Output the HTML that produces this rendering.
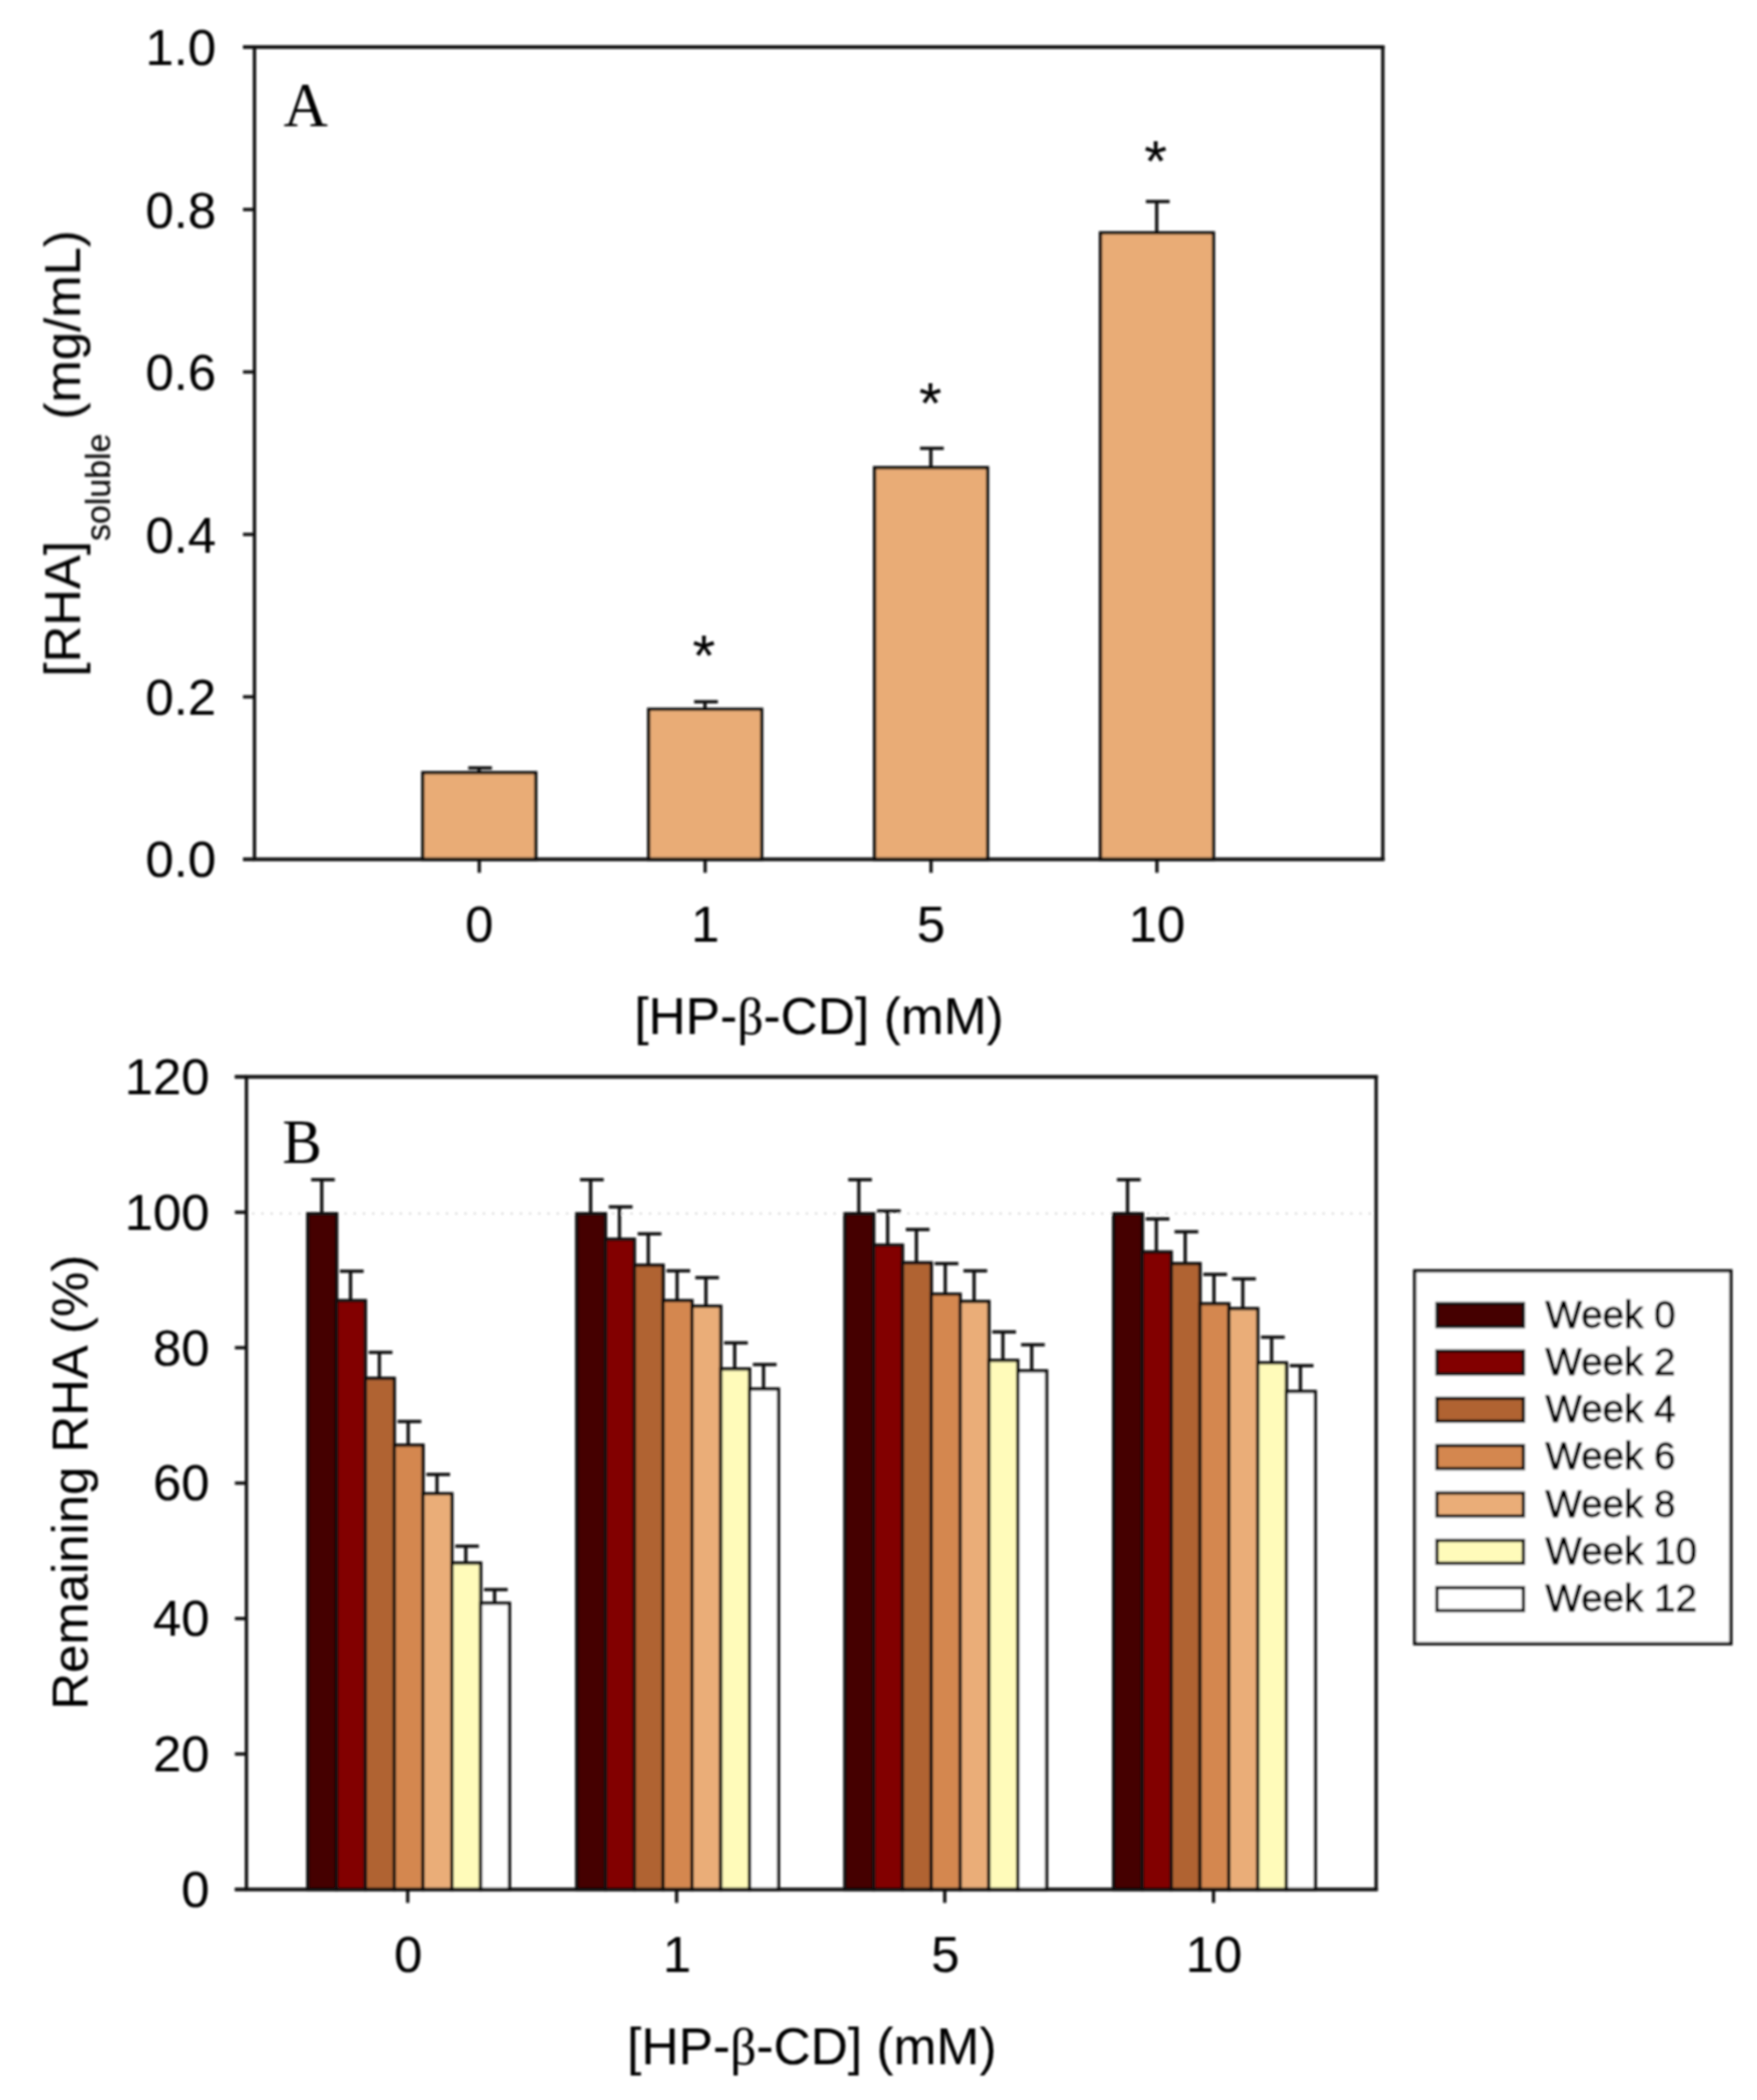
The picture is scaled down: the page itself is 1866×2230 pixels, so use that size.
<!DOCTYPE html>
<html lang="en">
<head>
<meta charset="utf-8">
<title>RHA solubility and stability with HP-β-CD</title>
<style>
html,body{margin:0;padding:0;background:#fff;}
body{width:1866px;height:2230px;overflow:hidden;}
svg{display:block;}
text{fill:#000;stroke:#000;stroke-width:0.12px;stroke-linejoin:round;}
text.lg{stroke-width:0.9px;}
</style>
</head>
<body>
<svg width="1866" height="2230" viewBox="0 0 1866 2230">
<rect x="0" y="0" width="1866" height="2230" fill="#ffffff"/>
<defs><filter id="soft" x="-2%" y="-2%" width="104%" height="104%" filterUnits="objectBoundingBox"><feGaussianBlur stdDeviation="0.85"/></filter></defs>
<g id="fig" filter="url(#soft)">
<rect x="270.3" y="50.0" width="1198.3" height="862.5" fill="none" stroke="#0e0e0e" stroke-width="3.5"/>
<line x1="258.05" y1="912.50" x2="270.30" y2="912.50" stroke="#0e0e0e" stroke-width="3.5" />
<text x="229.50" y="930.53" font-size="54" text-anchor="end" font-family="'Liberation Sans', sans-serif" >0.0</text>
<line x1="258.05" y1="740.00" x2="270.30" y2="740.00" stroke="#0e0e0e" stroke-width="3.5" />
<text x="229.50" y="759.03" font-size="54" text-anchor="end" font-family="'Liberation Sans', sans-serif" >0.2</text>
<line x1="258.05" y1="567.50" x2="270.30" y2="567.50" stroke="#0e0e0e" stroke-width="3.5" />
<text x="229.50" y="586.53" font-size="54" text-anchor="end" font-family="'Liberation Sans', sans-serif" >0.4</text>
<line x1="258.05" y1="395.00" x2="270.30" y2="395.00" stroke="#0e0e0e" stroke-width="3.5" />
<text x="229.50" y="414.03" font-size="54" text-anchor="end" font-family="'Liberation Sans', sans-serif" >0.6</text>
<line x1="258.05" y1="222.50" x2="270.30" y2="222.50" stroke="#0e0e0e" stroke-width="3.5" />
<text x="229.50" y="241.53" font-size="54" text-anchor="end" font-family="'Liberation Sans', sans-serif" >0.8</text>
<line x1="258.05" y1="50.00" x2="270.30" y2="50.00" stroke="#0e0e0e" stroke-width="3.5" />
<text x="229.50" y="69.03" font-size="54" text-anchor="end" font-family="'Liberation Sans', sans-serif" >1.0</text>
<line x1="508.80" y1="815.50" x2="508.80" y2="820.50" stroke="#0e0e0e" stroke-width="3.5" />
<line x1="497.30" y1="815.50" x2="522.50" y2="815.50" stroke="#0e0e0e" stroke-width="3.5" />
<rect x="449.00" y="820.50" width="120.00" height="92.00" fill="#E9AC76" stroke="#0e0e0e" stroke-width="3.5"/>
<line x1="509.00" y1="912.50" x2="509.00" y2="926.80" stroke="#0e0e0e" stroke-width="3.5" />
<text x="509.00" y="1000.00" font-size="54" text-anchor="middle" font-family="'Liberation Sans', sans-serif" >0</text>
<line x1="748.70" y1="745.20" x2="748.70" y2="753.20" stroke="#0e0e0e" stroke-width="3.5" />
<line x1="737.20" y1="745.20" x2="762.40" y2="745.20" stroke="#0e0e0e" stroke-width="3.5" />
<rect x="688.90" y="753.20" width="120.00" height="159.30" fill="#E9AC76" stroke="#0e0e0e" stroke-width="3.5"/>
<line x1="748.90" y1="912.50" x2="748.90" y2="926.80" stroke="#0e0e0e" stroke-width="3.5" />
<text x="748.90" y="1000.00" font-size="54" text-anchor="middle" font-family="'Liberation Sans', sans-serif" >1</text>
<text x="747.50" y="717.00" font-size="62" text-anchor="middle" font-family="'Liberation Sans', sans-serif" stroke="#000" stroke-width="1.6" stroke-linejoin="round">*</text>
<line x1="988.60" y1="476.10" x2="988.60" y2="496.60" stroke="#0e0e0e" stroke-width="3.5" />
<line x1="977.10" y1="476.10" x2="1002.30" y2="476.10" stroke="#0e0e0e" stroke-width="3.5" />
<rect x="928.80" y="496.60" width="120.00" height="415.90" fill="#E9AC76" stroke="#0e0e0e" stroke-width="3.5"/>
<line x1="988.80" y1="912.50" x2="988.80" y2="926.80" stroke="#0e0e0e" stroke-width="3.5" />
<text x="988.80" y="1000.00" font-size="54" text-anchor="middle" font-family="'Liberation Sans', sans-serif" >5</text>
<text x="988.00" y="449.30" font-size="62" text-anchor="middle" font-family="'Liberation Sans', sans-serif" stroke="#000" stroke-width="1.6" stroke-linejoin="round">*</text>
<line x1="1228.50" y1="214.00" x2="1228.50" y2="247.30" stroke="#0e0e0e" stroke-width="3.5" />
<line x1="1217.00" y1="214.00" x2="1242.20" y2="214.00" stroke="#0e0e0e" stroke-width="3.5" />
<rect x="1168.70" y="247.30" width="120.00" height="665.20" fill="#E9AC76" stroke="#0e0e0e" stroke-width="3.5"/>
<line x1="1228.70" y1="912.50" x2="1228.70" y2="926.80" stroke="#0e0e0e" stroke-width="3.5" />
<text x="1228.70" y="1000.00" font-size="54" text-anchor="middle" font-family="'Liberation Sans', sans-serif" >10</text>
<text x="1227.30" y="192.40" font-size="62" text-anchor="middle" font-family="'Liberation Sans', sans-serif" stroke="#000" stroke-width="1.6" stroke-linejoin="round">*</text>
<line x1="258.05" y1="912.50" x2="1470.35" y2="912.50" stroke="#0e0e0e" stroke-width="3.5" />
<line x1="258.05" y1="50.00" x2="1470.35" y2="50.00" stroke="#0e0e0e" stroke-width="3.5" />
<text transform="translate(301.3 134.0) scale(0.955 1)" font-size="68" font-family="'Liberation Serif', serif">A</text>
<text x="869.8" y="1097.5" font-size="54.7" text-anchor="middle" font-family="'Liberation Sans', sans-serif">[HP-<tspan font-family="'Liberation Serif', serif">β</tspan>-CD] (mM)</text>
<text transform="translate(85.0 481.5) rotate(-90)" font-size="54" text-anchor="middle" font-family="'Liberation Sans', sans-serif">[RHA]<tspan font-size="36" dy="31.5">soluble</tspan><tspan dy="-31.5"> (mg/mL)</tspan></text>
<rect x="261.7" y="1143.5" width="1199.8" height="862.9000000000001" fill="none" stroke="#0e0e0e" stroke-width="3.5"/>
<line x1="267.70" y1="1288.60" x2="1459.50" y2="1288.60" stroke="#dcdcdc" stroke-width="2.4" stroke-dasharray="2.6 7.2"/>
<line x1="249.45" y1="2006.40" x2="261.70" y2="2006.40" stroke="#0e0e0e" stroke-width="3.5" />
<text x="222.50" y="2024.93" font-size="54" text-anchor="end" font-family="'Liberation Sans', sans-serif" >0</text>
<line x1="249.45" y1="1862.58" x2="261.70" y2="1862.58" stroke="#0e0e0e" stroke-width="3.5" />
<text x="222.50" y="1881.12" font-size="54" text-anchor="end" font-family="'Liberation Sans', sans-serif" >20</text>
<line x1="249.45" y1="1718.77" x2="261.70" y2="1718.77" stroke="#0e0e0e" stroke-width="3.5" />
<text x="222.50" y="1737.30" font-size="54" text-anchor="end" font-family="'Liberation Sans', sans-serif" >40</text>
<line x1="249.45" y1="1574.95" x2="261.70" y2="1574.95" stroke="#0e0e0e" stroke-width="3.5" />
<text x="222.50" y="1593.48" font-size="54" text-anchor="end" font-family="'Liberation Sans', sans-serif" >60</text>
<line x1="249.45" y1="1431.13" x2="261.70" y2="1431.13" stroke="#0e0e0e" stroke-width="3.5" />
<text x="222.50" y="1449.67" font-size="54" text-anchor="end" font-family="'Liberation Sans', sans-serif" >80</text>
<line x1="249.45" y1="1287.32" x2="261.70" y2="1287.32" stroke="#0e0e0e" stroke-width="3.5" />
<text x="222.50" y="1305.85" font-size="54" text-anchor="end" font-family="'Liberation Sans', sans-serif" >100</text>
<line x1="249.45" y1="1143.50" x2="261.70" y2="1143.50" stroke="#0e0e0e" stroke-width="3.5" />
<text x="222.50" y="1162.03" font-size="54" text-anchor="end" font-family="'Liberation Sans', sans-serif" >120</text>
<line x1="341.70" y1="1252.70" x2="341.70" y2="1288.90" stroke="#0e0e0e" stroke-width="3.5" />
<line x1="330.40" y1="1252.70" x2="355.60" y2="1252.70" stroke="#0e0e0e" stroke-width="3.5" />
<line x1="372.30" y1="1349.90" x2="372.30" y2="1381.10" stroke="#0e0e0e" stroke-width="3.5" />
<line x1="361.00" y1="1349.90" x2="386.20" y2="1349.90" stroke="#0e0e0e" stroke-width="3.5" />
<line x1="402.90" y1="1436.10" x2="402.90" y2="1463.60" stroke="#0e0e0e" stroke-width="3.5" />
<line x1="391.60" y1="1436.10" x2="416.80" y2="1436.10" stroke="#0e0e0e" stroke-width="3.5" />
<line x1="433.50" y1="1509.50" x2="433.50" y2="1534.60" stroke="#0e0e0e" stroke-width="3.5" />
<line x1="422.20" y1="1509.50" x2="447.40" y2="1509.50" stroke="#0e0e0e" stroke-width="3.5" />
<line x1="464.10" y1="1565.70" x2="464.10" y2="1586.20" stroke="#0e0e0e" stroke-width="3.5" />
<line x1="452.80" y1="1565.70" x2="478.00" y2="1565.70" stroke="#0e0e0e" stroke-width="3.5" />
<line x1="494.70" y1="1641.90" x2="494.70" y2="1659.80" stroke="#0e0e0e" stroke-width="3.5" />
<line x1="483.40" y1="1641.90" x2="508.60" y2="1641.90" stroke="#0e0e0e" stroke-width="3.5" />
<line x1="525.30" y1="1688.00" x2="525.30" y2="1702.50" stroke="#0e0e0e" stroke-width="3.5" />
<line x1="514.00" y1="1688.00" x2="539.20" y2="1688.00" stroke="#0e0e0e" stroke-width="3.5" />
<rect x="326.90" y="1288.90" width="30.60" height="717.50" fill="#450000" stroke="#0e0e0e" stroke-width="3.5"/>
<rect x="357.50" y="1381.10" width="30.60" height="625.30" fill="#820000" stroke="#0e0e0e" stroke-width="3.5"/>
<rect x="388.10" y="1463.60" width="30.60" height="542.80" fill="#B06433" stroke="#0e0e0e" stroke-width="3.5"/>
<rect x="418.70" y="1534.60" width="30.60" height="471.80" fill="#D48750" stroke="#0e0e0e" stroke-width="3.5"/>
<rect x="449.30" y="1586.20" width="30.60" height="420.20" fill="#EAAD78" stroke="#0e0e0e" stroke-width="3.5"/>
<rect x="479.90" y="1659.80" width="30.60" height="346.60" fill="#FFFBBA" stroke="#0e0e0e" stroke-width="3.5"/>
<rect x="510.50" y="1702.50" width="30.60" height="303.90" fill="#FFFFFF" stroke="#0e0e0e" stroke-width="3.5"/>
<line x1="433.00" y1="2006.40" x2="433.00" y2="2020.70" stroke="#0e0e0e" stroke-width="3.5" />
<text x="433.50" y="2094.00" font-size="54" text-anchor="middle" font-family="'Liberation Sans', sans-serif" >0</text>
<line x1="627.30" y1="1252.70" x2="627.30" y2="1288.90" stroke="#0e0e0e" stroke-width="3.5" />
<line x1="616.00" y1="1252.70" x2="641.20" y2="1252.70" stroke="#0e0e0e" stroke-width="3.5" />
<line x1="657.90" y1="1281.60" x2="657.90" y2="1315.90" stroke="#0e0e0e" stroke-width="3.5" />
<line x1="646.60" y1="1281.60" x2="671.80" y2="1281.60" stroke="#0e0e0e" stroke-width="3.5" />
<line x1="688.50" y1="1310.20" x2="688.50" y2="1343.50" stroke="#0e0e0e" stroke-width="3.5" />
<line x1="677.20" y1="1310.20" x2="702.40" y2="1310.20" stroke="#0e0e0e" stroke-width="3.5" />
<line x1="719.10" y1="1349.50" x2="719.10" y2="1381.10" stroke="#0e0e0e" stroke-width="3.5" />
<line x1="707.80" y1="1349.50" x2="733.00" y2="1349.50" stroke="#0e0e0e" stroke-width="3.5" />
<line x1="749.70" y1="1356.70" x2="749.70" y2="1387.10" stroke="#0e0e0e" stroke-width="3.5" />
<line x1="738.40" y1="1356.70" x2="763.60" y2="1356.70" stroke="#0e0e0e" stroke-width="3.5" />
<line x1="780.30" y1="1426.00" x2="780.30" y2="1453.70" stroke="#0e0e0e" stroke-width="3.5" />
<line x1="769.00" y1="1426.00" x2="794.20" y2="1426.00" stroke="#0e0e0e" stroke-width="3.5" />
<line x1="810.90" y1="1449.00" x2="810.90" y2="1475.00" stroke="#0e0e0e" stroke-width="3.5" />
<line x1="799.60" y1="1449.00" x2="824.80" y2="1449.00" stroke="#0e0e0e" stroke-width="3.5" />
<rect x="612.50" y="1288.90" width="30.60" height="717.50" fill="#450000" stroke="#0e0e0e" stroke-width="3.5"/>
<rect x="643.10" y="1315.90" width="30.60" height="690.50" fill="#820000" stroke="#0e0e0e" stroke-width="3.5"/>
<rect x="673.70" y="1343.50" width="30.60" height="662.90" fill="#B06433" stroke="#0e0e0e" stroke-width="3.5"/>
<rect x="704.30" y="1381.10" width="30.60" height="625.30" fill="#D48750" stroke="#0e0e0e" stroke-width="3.5"/>
<rect x="734.90" y="1387.10" width="30.60" height="619.30" fill="#EAAD78" stroke="#0e0e0e" stroke-width="3.5"/>
<rect x="765.50" y="1453.70" width="30.60" height="552.70" fill="#FFFBBA" stroke="#0e0e0e" stroke-width="3.5"/>
<rect x="796.10" y="1475.00" width="30.60" height="531.40" fill="#FFFFFF" stroke="#0e0e0e" stroke-width="3.5"/>
<line x1="718.60" y1="2006.40" x2="718.60" y2="2020.70" stroke="#0e0e0e" stroke-width="3.5" />
<text x="719.10" y="2094.00" font-size="54" text-anchor="middle" font-family="'Liberation Sans', sans-serif" >1</text>
<line x1="912.10" y1="1252.70" x2="912.10" y2="1288.90" stroke="#0e0e0e" stroke-width="3.5" />
<line x1="900.80" y1="1252.70" x2="926.00" y2="1252.70" stroke="#0e0e0e" stroke-width="3.5" />
<line x1="942.70" y1="1286.00" x2="942.70" y2="1322.20" stroke="#0e0e0e" stroke-width="3.5" />
<line x1="931.40" y1="1286.00" x2="956.60" y2="1286.00" stroke="#0e0e0e" stroke-width="3.5" />
<line x1="973.30" y1="1305.60" x2="973.30" y2="1341.00" stroke="#0e0e0e" stroke-width="3.5" />
<line x1="962.00" y1="1305.60" x2="987.20" y2="1305.60" stroke="#0e0e0e" stroke-width="3.5" />
<line x1="1003.90" y1="1341.80" x2="1003.90" y2="1374.30" stroke="#0e0e0e" stroke-width="3.5" />
<line x1="992.60" y1="1341.80" x2="1017.80" y2="1341.80" stroke="#0e0e0e" stroke-width="3.5" />
<line x1="1034.50" y1="1349.50" x2="1034.50" y2="1382.00" stroke="#0e0e0e" stroke-width="3.5" />
<line x1="1023.20" y1="1349.50" x2="1048.40" y2="1349.50" stroke="#0e0e0e" stroke-width="3.5" />
<line x1="1065.10" y1="1414.40" x2="1065.10" y2="1444.60" stroke="#0e0e0e" stroke-width="3.5" />
<line x1="1053.80" y1="1414.40" x2="1079.00" y2="1414.40" stroke="#0e0e0e" stroke-width="3.5" />
<line x1="1095.70" y1="1428.00" x2="1095.70" y2="1455.70" stroke="#0e0e0e" stroke-width="3.5" />
<line x1="1084.40" y1="1428.00" x2="1109.60" y2="1428.00" stroke="#0e0e0e" stroke-width="3.5" />
<rect x="897.30" y="1288.90" width="30.60" height="717.50" fill="#450000" stroke="#0e0e0e" stroke-width="3.5"/>
<rect x="927.90" y="1322.20" width="30.60" height="684.20" fill="#820000" stroke="#0e0e0e" stroke-width="3.5"/>
<rect x="958.50" y="1341.00" width="30.60" height="665.40" fill="#B06433" stroke="#0e0e0e" stroke-width="3.5"/>
<rect x="989.10" y="1374.30" width="30.60" height="632.10" fill="#D48750" stroke="#0e0e0e" stroke-width="3.5"/>
<rect x="1019.70" y="1382.00" width="30.60" height="624.40" fill="#EAAD78" stroke="#0e0e0e" stroke-width="3.5"/>
<rect x="1050.30" y="1444.60" width="30.60" height="561.80" fill="#FFFBBA" stroke="#0e0e0e" stroke-width="3.5"/>
<rect x="1080.90" y="1455.70" width="30.60" height="550.70" fill="#FFFFFF" stroke="#0e0e0e" stroke-width="3.5"/>
<line x1="1003.40" y1="2006.40" x2="1003.40" y2="2020.70" stroke="#0e0e0e" stroke-width="3.5" />
<text x="1003.90" y="2094.00" font-size="54" text-anchor="middle" font-family="'Liberation Sans', sans-serif" >5</text>
<line x1="1197.50" y1="1252.70" x2="1197.50" y2="1288.90" stroke="#0e0e0e" stroke-width="3.5" />
<line x1="1186.20" y1="1252.70" x2="1211.40" y2="1252.70" stroke="#0e0e0e" stroke-width="3.5" />
<line x1="1228.10" y1="1294.40" x2="1228.10" y2="1329.50" stroke="#0e0e0e" stroke-width="3.5" />
<line x1="1216.80" y1="1294.40" x2="1242.00" y2="1294.40" stroke="#0e0e0e" stroke-width="3.5" />
<line x1="1258.70" y1="1308.00" x2="1258.70" y2="1341.80" stroke="#0e0e0e" stroke-width="3.5" />
<line x1="1247.40" y1="1308.00" x2="1272.60" y2="1308.00" stroke="#0e0e0e" stroke-width="3.5" />
<line x1="1289.30" y1="1353.30" x2="1289.30" y2="1384.50" stroke="#0e0e0e" stroke-width="3.5" />
<line x1="1278.00" y1="1353.30" x2="1303.20" y2="1353.30" stroke="#0e0e0e" stroke-width="3.5" />
<line x1="1319.90" y1="1358.00" x2="1319.90" y2="1389.60" stroke="#0e0e0e" stroke-width="3.5" />
<line x1="1308.60" y1="1358.00" x2="1333.80" y2="1358.00" stroke="#0e0e0e" stroke-width="3.5" />
<line x1="1350.50" y1="1420.00" x2="1350.50" y2="1447.30" stroke="#0e0e0e" stroke-width="3.5" />
<line x1="1339.20" y1="1420.00" x2="1364.40" y2="1420.00" stroke="#0e0e0e" stroke-width="3.5" />
<line x1="1381.10" y1="1450.20" x2="1381.10" y2="1477.60" stroke="#0e0e0e" stroke-width="3.5" />
<line x1="1369.80" y1="1450.20" x2="1395.00" y2="1450.20" stroke="#0e0e0e" stroke-width="3.5" />
<rect x="1182.70" y="1288.90" width="30.60" height="717.50" fill="#450000" stroke="#0e0e0e" stroke-width="3.5"/>
<rect x="1213.30" y="1329.50" width="30.60" height="676.90" fill="#820000" stroke="#0e0e0e" stroke-width="3.5"/>
<rect x="1243.90" y="1341.80" width="30.60" height="664.60" fill="#B06433" stroke="#0e0e0e" stroke-width="3.5"/>
<rect x="1274.50" y="1384.50" width="30.60" height="621.90" fill="#D48750" stroke="#0e0e0e" stroke-width="3.5"/>
<rect x="1305.10" y="1389.60" width="30.60" height="616.80" fill="#EAAD78" stroke="#0e0e0e" stroke-width="3.5"/>
<rect x="1335.70" y="1447.30" width="30.60" height="559.10" fill="#FFFBBA" stroke="#0e0e0e" stroke-width="3.5"/>
<rect x="1366.30" y="1477.60" width="30.60" height="528.80" fill="#FFFFFF" stroke="#0e0e0e" stroke-width="3.5"/>
<line x1="1288.80" y1="2006.40" x2="1288.80" y2="2020.70" stroke="#0e0e0e" stroke-width="3.5" />
<text x="1289.30" y="2094.00" font-size="54" text-anchor="middle" font-family="'Liberation Sans', sans-serif" >10</text>
<line x1="249.45" y1="2006.40" x2="1463.25" y2="2006.40" stroke="#0e0e0e" stroke-width="3.5" />
<line x1="249.45" y1="1143.50" x2="1463.25" y2="1143.50" stroke="#0e0e0e" stroke-width="3.5" />
<text transform="translate(300.0 1234.8) scale(0.925 1)" font-size="67.5" font-family="'Liberation Serif', serif">B</text>
<text x="862.2" y="2191.5" font-size="54.7" text-anchor="middle" font-family="'Liberation Sans', sans-serif">[HP-<tspan font-family="'Liberation Serif', serif">β</tspan>-CD] (mM)</text>
<text transform="translate(93.0 1574.0) rotate(-90)" font-size="54" text-anchor="middle" font-family="'Liberation Sans', sans-serif">Remaining RHA (%)</text>
<rect x="1502.5" y="1349.5" width="335.79999999999995" height="396.0" fill="#fff" stroke="#0e0e0e" stroke-width="3.5"/>
<rect x="1526.20" y="1384.30" width="91.70" height="24.40" fill="#450000" stroke="#0e0e0e" stroke-width="3.5"/>
<text x="1641.30" y="1409.50" font-size="41" text-anchor="start" font-family="'Liberation Sans', sans-serif" class="lg">Week 0</text>
<rect x="1526.20" y="1434.58" width="91.70" height="24.40" fill="#820000" stroke="#0e0e0e" stroke-width="3.5"/>
<text x="1641.30" y="1459.78" font-size="41" text-anchor="start" font-family="'Liberation Sans', sans-serif" class="lg">Week 2</text>
<rect x="1526.20" y="1484.86" width="91.70" height="24.40" fill="#B06433" stroke="#0e0e0e" stroke-width="3.5"/>
<text x="1641.30" y="1510.06" font-size="41" text-anchor="start" font-family="'Liberation Sans', sans-serif" class="lg">Week 4</text>
<rect x="1526.20" y="1535.14" width="91.70" height="24.40" fill="#D48750" stroke="#0e0e0e" stroke-width="3.5"/>
<text x="1641.30" y="1560.34" font-size="41" text-anchor="start" font-family="'Liberation Sans', sans-serif" class="lg">Week 6</text>
<rect x="1526.20" y="1585.42" width="91.70" height="24.40" fill="#EAAD78" stroke="#0e0e0e" stroke-width="3.5"/>
<text x="1641.30" y="1610.62" font-size="41" text-anchor="start" font-family="'Liberation Sans', sans-serif" class="lg">Week 8</text>
<rect x="1526.20" y="1635.70" width="91.70" height="24.40" fill="#FFFBBA" stroke="#0e0e0e" stroke-width="3.5"/>
<text x="1641.30" y="1660.90" font-size="41" text-anchor="start" font-family="'Liberation Sans', sans-serif" class="lg">Week 10</text>
<rect x="1526.20" y="1685.98" width="91.70" height="24.40" fill="#FFFFFF" stroke="#0e0e0e" stroke-width="3.5"/>
<text x="1641.30" y="1711.18" font-size="41" text-anchor="start" font-family="'Liberation Sans', sans-serif" class="lg">Week 12</text>
</g>
</svg>
</body>
</html>
